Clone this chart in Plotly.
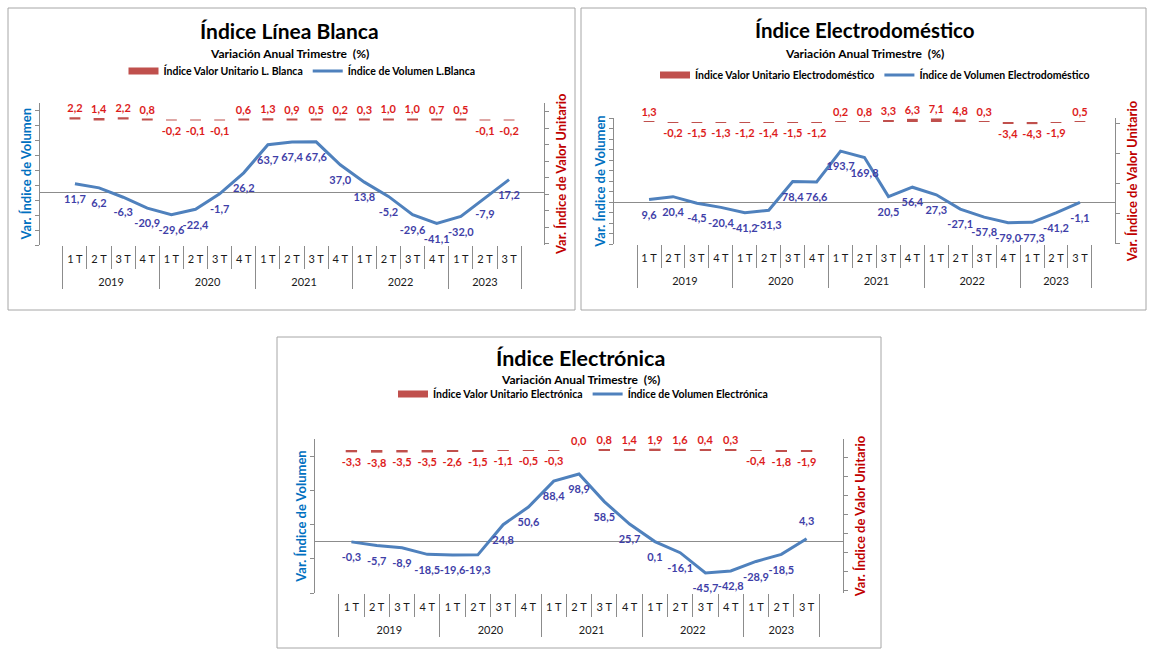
import plotly.graph_objects as go

W, H = 1149, 650

# Quarter categories shared by the three panels (year level carries a leading
# line break so it sits one row below the quarter labels)
year_names = ["2019", "2020", "2021", "2022", "2023"]
quarters_per_year = [4, 4, 4, 4, 3]
years = [f"<br>{y}" for y, k in zip(year_names, quarters_per_year) for _ in range(k)]
quarters = ["1 T", "2 T", "3 T", "4 T"] * 4 + ["1 T", "2 T", "3 T"]

# Índice Línea Blanca
lb_volumen = [11.7, 6.2, -6.3, -20.9, -29.6, -22.4, -1.7, 26.2, 63.7, 67.4,
              67.6, 37.0, 13.8, -5.2, -29.6, -41.1, -32.0, -7.9, 17.2]
lb_valor = [2.2, 1.4, 2.2, 0.8, -0.2, -0.1, -0.1, 0.6, 1.3, 0.9,
            0.5, 0.2, 0.3, 1.0, 1.0, 0.7, 0.5, -0.1, -0.2]

# Índice Electrodoméstico
ed_volumen = [9.6, 20.4, -4.5, -20.4, -41.2, -31.3, 78.4, 76.6, 193.7, 169.8,
              20.5, 56.4, 27.3, -27.1, -57.8, -79.0, -77.3, -41.2, -1.1]
ed_valor = [1.3, -0.2, -1.5, -1.3, -1.2, -1.4, -1.5, -1.2, 0.2, 0.8,
            3.3, 6.3, 7.1, 4.8, 0.3, -3.4, -4.3, -1.9, 0.5]

# Índice Electrónica
el_volumen = [-0.3, -5.7, -8.9, -18.5, -19.6, -19.3, 24.8, 50.6, 88.4, 98.9,
              58.5, 25.7, 0.1, -16.1, -45.7, -42.8, -28.9, -18.5, 4.3]
el_valor = [-3.3, -3.8, -3.5, -3.5, -2.6, -1.5, -1.1, -0.5, -0.3, 0.0,
            0.8, 1.4, 1.9, 1.6, 0.4, 0.3, -0.4, -1.8, -1.9]

FONT = "Lato"
BAR_RED = "#C0504D"
LABEL_RED = "#DD1C1C"
LINE_BLUE = "#4F81BD"
LABEL_BLUE = "#3F3FA8"
AXIS_GREY = "#8C8C8C"


def px_x(v):
    return v / W


def px_y(v):
    return 1 - v / H


panels = [
    dict(
        title="Índice Línea Blanca", title_size=21, title_xy=(289, 30), sub_y=53,
        legend_xy=(302, 71),
        bar_name="Índice Valor Unitario L. Blanca",
        line_name="Índice de Volumen L.Blanca",
        vol=lb_volumen, val=lb_valor,
        xdom=(39.7, 544.3), ytop=102.5, ybot=245,
        yrange=[-70, 120], ytick0=-70, ydtick=20,
        y2range=[-114, 15.5], y2tick0=7, y2dtick=15,
        box=(8, 8, 575, 310),
        textpos=["bottom center"] * 19,
    ),
    dict(
        title="Índice Electrodoméstico", title_size=20.5, title_xy=(865, 30), sub_y=53,
        legend_xy=(875, 75),
        bar_name="Índice Valor Unitario Electrodoméstico",
        line_name="Índice de Volumen Electrodoméstico",
        vol=ed_volumen, val=ed_valor,
        xdom=(614, 1115), ytop=118, ybot=244,
        yrange=[-160, 320], ytick0=-160, ydtick=40,
        y2range=[-244, 8], y2tick0=-2, y2dtick=60,
        box=(581, 8, 1146, 310),
        textpos=["bottom center"] * 19,
    ),
    dict(
        title="Índice Electrónica", title_size=21.5, title_xy=(580, 358), sub_y=379,
        legend_xy=(583, 394),
        bar_name="Índice Valor Unitario Electrónica",
        line_name="Índice de Volumen Electrónica",
        vol=el_volumen, val=el_valor,
        xdom=(315, 843), ytop=439, ybot=593,
        yrange=[-75, 150], ytick0=-75, ydtick=50,
        y2range=[-204, 15.7], y2tick0=-11, y2dtick=27,
        box=(277, 337, 881, 648),
        textpos=["bottom center"] * 18 + ["top center"],
    ),
]

fig = go.Figure()
layout = dict(
    width=W, height=H,
    margin=dict(l=0, r=0, t=0, b=0),
    paper_bgcolor="white", plot_bgcolor="white",
    separators=",.",
    font=dict(family=FONT, color="#000000"),
    shapes=[], annotations=[],
)

for i, p in enumerate(panels):
    n = i + 1
    xa = "x" if n == 1 else f"x{n}"
    ya_main = 2 * n - 1
    ya_sec = 2 * n
    ya_main_ref = "y" if ya_main == 1 else f"y{ya_main}"
    ya_sec_ref = f"y{ya_sec}"
    leg = "legend" if n == 1 else f"legend{n}"

    xdom = [px_x(p["xdom"][0]), px_x(p["xdom"][1])]
    ydom = [px_y(p["ybot"]), px_y(p["ytop"])]

    # Unit value bars on the secondary axis
    fig.add_trace(go.Bar(
        x=[years, quarters], y=p["val"],
        xaxis=xa, yaxis=ya_sec_ref,
        marker=dict(color=BAR_RED, line=dict(width=0)),
        width=0.45,
        texttemplate="%{y:.1f}", textposition="outside",
        textfont=dict(family=FONT, size=11, color=LABEL_RED, weight="bold"),
        constraintext="none", cliponaxis=False,
        showlegend=False, hoverinfo="skip",
    ))
    # Legend entry for the bars (flat red swatch)
    fig.add_trace(go.Scatter(
        x=[None], y=[None], mode="lines", name=p["bar_name"],
        xaxis=xa, yaxis=ya_sec_ref,
        line=dict(color=BAR_RED, width=7), legend=leg,
    ))
    # Volume line on the primary axis; transparent markers pad the labels
    fig.add_trace(go.Scatter(
        x=[years, quarters], y=p["vol"],
        xaxis=xa, yaxis=ya_main_ref,
        mode="lines+markers+text", name=p["line_name"],
        line=dict(color=LINE_BLUE, width=3),
        marker=dict(size=16, color="rgba(0,0,0,0)", line=dict(width=0)),
        texttemplate="%{y:.1f}", textposition=p["textpos"],
        textfont=dict(family=FONT, size=11, color=LABEL_BLUE, weight="bold"),
        cliponaxis=False, legend=leg,
    ))

    xkey = "xaxis" if n == 1 else f"xaxis{n}"
    ykey = "yaxis" if ya_main == 1 else f"yaxis{ya_main}"
    y2key = f"yaxis{ya_sec}"

    layout[xkey] = dict(
        type="multicategory", domain=xdom, anchor=ya_main_ref,
        showline=False, showgrid=False, zeroline=False,
        ticks="outside", tickson="boundaries", ticklen=23,
        tickcolor=AXIS_GREY, tickwidth=1, ticklabelstandoff=6, tickangle=0,
        showdividers=True, dividercolor=AXIS_GREY, dividerwidth=1,
        tickfont=dict(family=FONT, size=11, color="#1A1A1A"),
    )
    layout[ykey] = dict(
        domain=ydom, anchor=xa, range=p["yrange"],
        tick0=p["ytick0"], dtick=p["ydtick"],
        showline=True, linecolor=AXIS_GREY, linewidth=1,
        ticks="outside", ticklen=4, tickcolor=AXIS_GREY,
        showticklabels=False, showgrid=False,
        zeroline=True, zerolinecolor=AXIS_GREY, zerolinewidth=1,
        title=dict(text="Var. Índice de Volumen", standoff=0,
                   font=dict(family=FONT, size=13, color="#0070C0", weight="bold")),
    )
    layout[y2key] = dict(
        domain=ydom, anchor=xa, overlaying=ya_main_ref, side="right",
        range=p["y2range"], tick0=p["y2tick0"], dtick=p["y2dtick"],
        showline=True, linecolor=AXIS_GREY, linewidth=1,
        ticks="outside", ticklen=4, tickcolor=AXIS_GREY,
        showticklabels=False, showgrid=False, zeroline=False,
        title=dict(text="Var. Índice de Valor Unitario", standoff=8,
                   font=dict(family=FONT, size=13, color="#C00000", weight="bold")),
    )
    layout[leg] = dict(
        orientation="h", x=px_x(p["legend_xy"][0]), y=px_y(p["legend_xy"][1]),
        xanchor="center", yanchor="middle", bgcolor="rgba(0,0,0,0)",
        font=dict(family=FONT, size=10.5, color="#000000", weight="bold"),
        itemwidth=30, tracegroupgap=0,
    )

    # Panel frame
    x0, y0, x1, y1 = p["box"]
    layout["shapes"].append(dict(
        type="rect", xref="paper", yref="paper",
        x0=px_x(x0), x1=px_x(x1), y0=px_y(y1), y1=px_y(y0),
        line=dict(color="#A6A6A6", width=1), fillcolor="rgba(0,0,0,0)", layer="below",
    ))
    # Titles
    layout["annotations"].append(dict(
        text=p["title"], xref="paper", yref="paper",
        x=px_x(p["title_xy"][0]), y=px_y(p["title_xy"][1]),
        xanchor="center", yanchor="middle", showarrow=False,
        font=dict(family=FONT, size=p["title_size"], color="#000000", weight="bold"),
    ))
    layout["annotations"].append(dict(
        text="Variación Anual Trimestre  (%)", xref="paper", yref="paper",
        x=px_x(p["title_xy"][0]), y=px_y(p["sub_y"]),
        xanchor="center", yanchor="middle", showarrow=False,
        font=dict(family=FONT, size=12, color="#000000", weight="bold"),
    ))

fig.update_layout(**layout)
fig.write_html("out.html")
